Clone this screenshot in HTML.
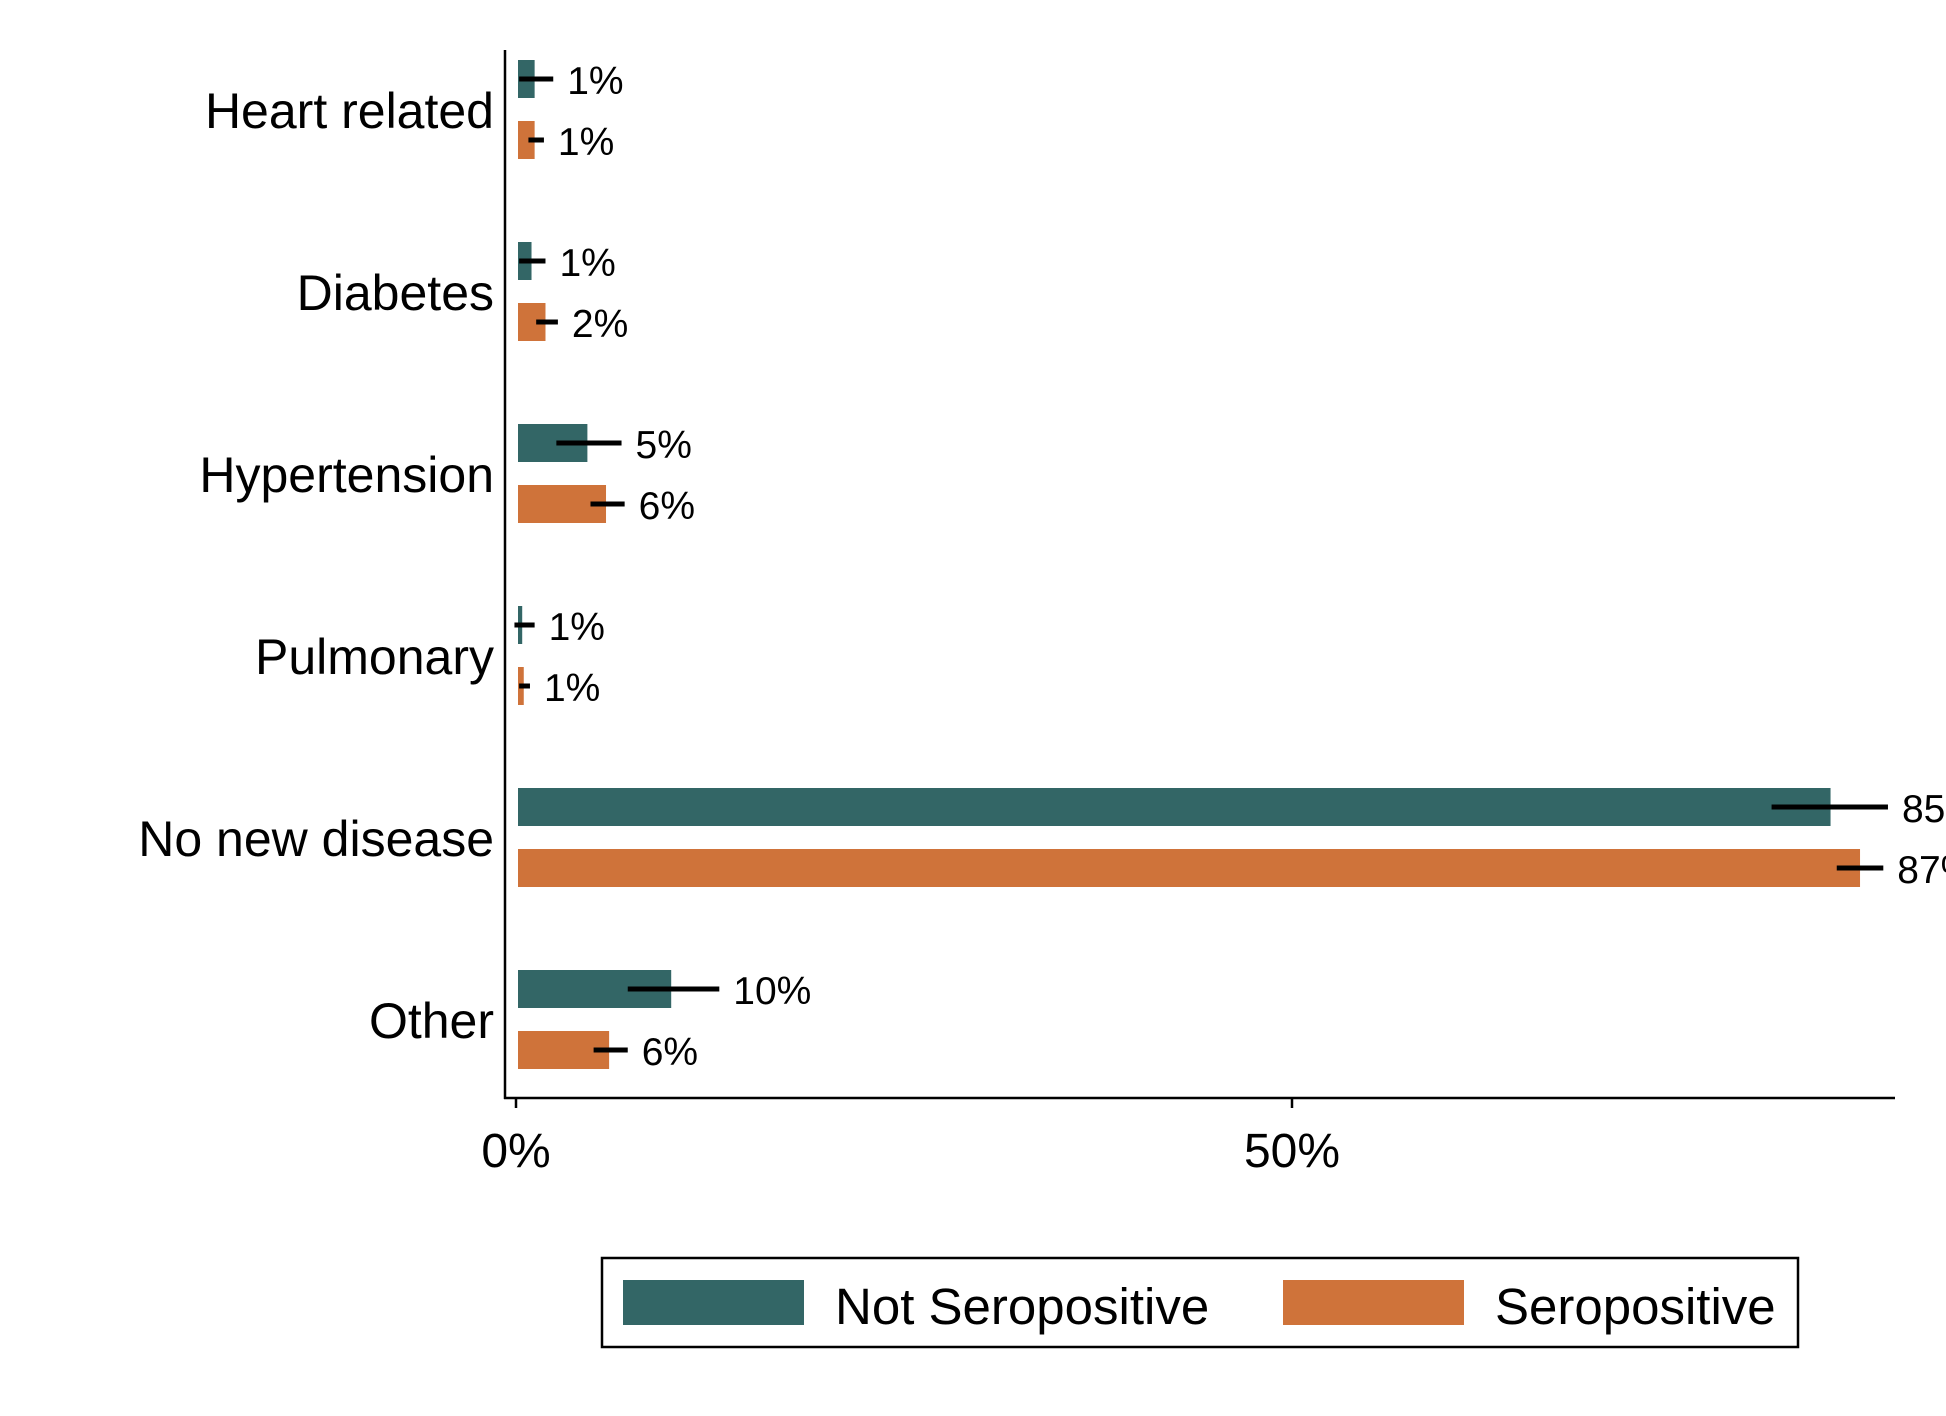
<!DOCTYPE html>
<html><head><meta charset="utf-8"><style>
html,body{margin:0;padding:0;background:#fff;}
svg{display:block;font-family:"Liberation Sans",Arial,sans-serif;}
</style></head><body>
<svg id="chart" width="1946" height="1416" viewBox="0 0 1946 1416">
<g id="axes"></g>
<g id="bars"></g>
<g id="legend">
  <rect x="602" y="1258" width="1196" height="89" fill="none" stroke="#000" stroke-width="2.5"/>
  <rect x="623" y="1280" width="181" height="45" fill="#336666"/>
  <text x="835" y="1324" font-size="51">Not Seropositive</text>
  <rect x="1283" y="1280" width="181" height="45" fill="#CF733A"/>
  <text x="1495" y="1324" font-size="51">Seropositive</text>
</g>
</svg>
<script>
const categories = ["Heart related","Diabetes","Hypertension","Pulmonary","No new disease","Other"];
const notSeroValues = [1.2, 1.0, 4.6, 0.4, 84.7, 10.0];
const notSeroLow = [0.2, 0.2, 2.6, -0.1, 80.9, 7.2];
const notSeroHigh = [2.4, 1.9, 6.8, 1.2, 88.4, 13.1];
const notSeroLabels = ["1%","1%","5%","1%","85%","10%"];
const seroValues = [1.2, 1.9, 5.8, 0.5, 86.6, 6.0];
const seroLow = [0.8, 1.3, 4.8, 0.2, 85.1, 5.0];
const seroHigh = [1.8, 2.7, 7.0, 0.9, 88.1, 7.2];
const seroLabels = ["1%","2%","6%","1%","87%","6%"];
const xTicks = [0, 50];
const xTickLabels = ["0%","50%"];

const NS = "http://www.w3.org/2000/svg";
const x = v => 516 + v * 15.52;
const yCenter = i => 79 + i * 182;
function mk(tag, attrs, parent){const e=document.createElementNS(NS,tag);for(const k in attrs)e.setAttribute(k,attrs[k]);parent.appendChild(e);return e;}
const axes=document.getElementById('axes'), bars=document.getElementById('bars');

let l=mk('line',{x1:505,y1:50,x2:505,y2:1099,stroke:'#000','stroke-width':2.5},axes);


l=mk('line',{x1:504,y1:1098,x2:1895,y2:1098,stroke:'#000','stroke-width':2.5},axes);


xTicks.forEach((t,i)=>{
  const tk=mk('line',{x1:x(t),y1:1098,x2:x(t),y2:1108,stroke:'#000','stroke-width':2.5},axes);
  
  
  const tl=mk('text',{x:x(t),y:1167,'font-size':48,'text-anchor':'middle'},axes);
  tl.textContent=xTickLabels[i];
  
  
});
categories.forEach((c,i)=>{
  const cl=mk('text',{x:494,y:yCenter(i)+30+19,'font-size':50,'text-anchor':'end'},axes);
  cl.textContent=c;
  
  
  const series=[[notSeroValues,notSeroLow,notSeroHigh,notSeroLabels,'#336666',0],[seroValues,seroLow,seroHigh,seroLabels,'#CF733A',61]];
  series.forEach(s=>{
    const cy=yCenter(i)+s[5];
    const b=mk('rect',{x:x(0)+2,y:cy-19,width:Math.max(2,x(s[0][i])-x(0)-2),height:38,fill:s[4]},bars);
    
    
    const e=mk('line',{x1:x(s[1][i]),y1:cy,x2:x(s[2][i]),y2:cy,stroke:'#000','stroke-width':5},bars);
    
    
    const t=mk('text',{x:x(s[2][i])+14,y:cy+15,'font-size':39},bars);
    t.textContent=s[3][i];
    
    
  });
});
</script>
</body></html>
